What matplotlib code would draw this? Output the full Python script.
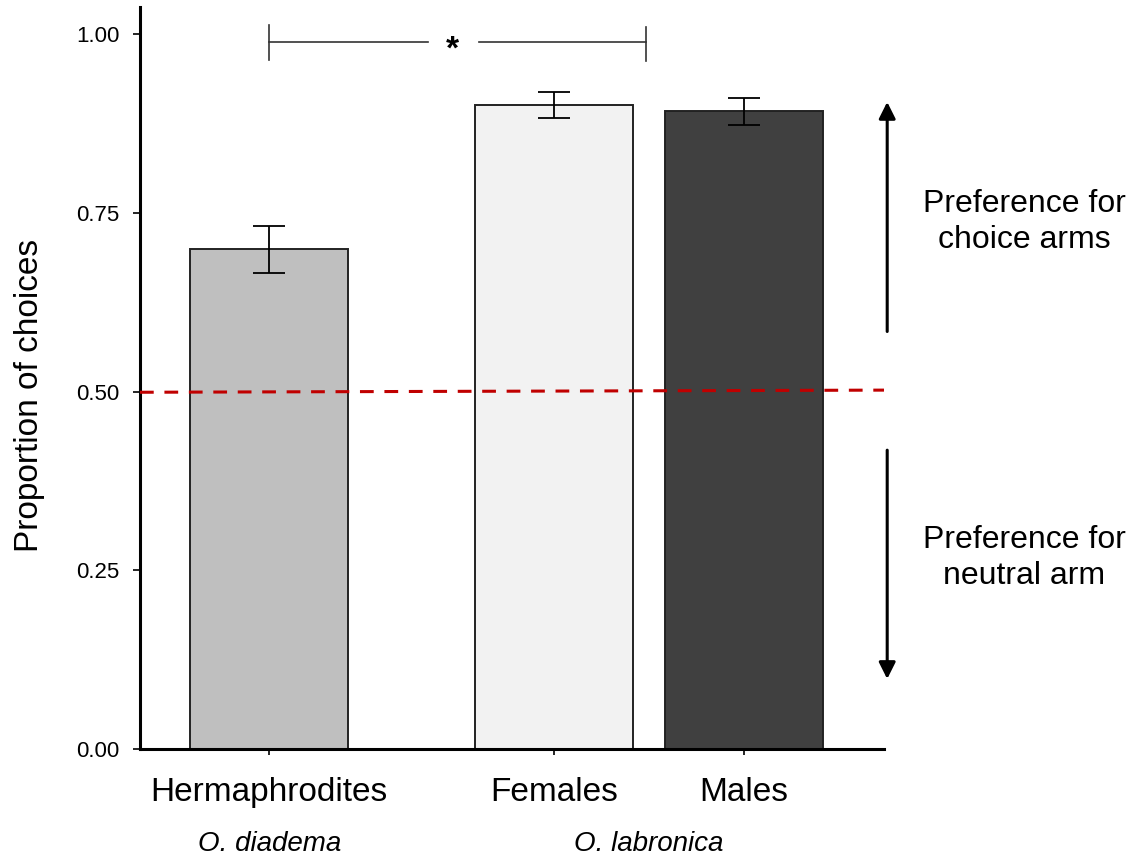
import matplotlib
matplotlib.use("Agg")
import matplotlib.pyplot as plt
import matplotlib.transforms as mtransforms

# data
groups = ["Hermaphrodites", "Females", "Males"]
species = ["O. diadema", "O. labronica"]
proportion = [0.699, 0.901, 0.892]
sem = [0.033, 0.018, 0.019]
bar_colors = ["#bfbfbf", "#f2f2f2", "#404040"]
chance_level = [0.499, 0.502]  # dashed line, left and right end
yticks = [0.00, 0.25, 0.50, 0.75, 1.00]

plt.rcParams["font.family"] = ["Liberation Sans", "DejaVu Sans"]

fig = plt.figure(figsize=(11.38, 8.59), dpi=100)
ax = fig.add_axes([0.123, 0.128, 0.654, 0.864])

xpos = [0, 1.8, 3.0]
ax.bar(xpos, proportion, width=1.0, color=bar_colors, edgecolor="#222222",
       linewidth=1.4, zorder=2)
ax.errorbar(xpos, proportion, yerr=sem, fmt="none", ecolor="black",
            elinewidth=1.3, capsize=11.5, capthick=1.3, zorder=3)

ax.set_xlim(-0.816, 3.885)
ax.set_ylim(0, 1.038)

# reference line at 0.5
ax.plot(ax.get_xlim(), chance_level, color="#c00000", linestyle=(0, (4.5, 3.5)),
        linewidth=2.2, zorder=4)

# significance bracket
x1, x2 = xpos[0], 2.38
yb = 0.989
ax.plot([x1, x1], [0.964, 1.013], color="#333333", lw=1.2)
ax.plot([x2, x2], [0.962, 1.010], color="#333333", lw=1.2)
ax.plot([x1, 1.001], [yb, yb], color="#333333", lw=1.2)
ax.plot([1.324, x2], [yb, yb], color="#333333", lw=1.2)
ax.text(1.158, yb - 0.012, "*", ha="center", va="center", fontsize=24,
        fontweight="bold")

# axes styling
for s in ["top", "right"]:
    ax.spines[s].set_visible(False)
ax.spines["left"].set_linewidth(2.2)
ax.spines["bottom"].set_linewidth(2.2)
ax.set_yticks(yticks)
ax.set_yticklabels(["%.2f" % t for t in yticks])
ax.tick_params(axis="y", labelsize=16, length=5, width=1.2, pad=10)
ax.set_xticks(xpos)
ax.set_xticklabels(groups, fontsize=24)
ax.tick_params(axis="x", length=4, width=1.2, pad=16)
ax.set_ylabel("Proportion of choices", fontsize=24)
ax.yaxis.set_label_coords(-0.127, 0.477)

# species labels
ax.text(xpos[0], -0.133, species[0], ha="center", va="center", fontsize=20,
        style="italic")
ax.text((xpos[1] + xpos[2]) / 2, -0.133, species[1], ha="center", va="center",
        fontsize=20, style="italic")

# preference arrows
trans = mtransforms.blended_transform_factory(ax.transAxes, ax.transData)
arrow = dict(arrowstyle="-|>,head_width=0.5,head_length=1.0", color="black",
             lw=2.2, shrinkA=0, shrinkB=0)
ax.annotate("", xy=(1.004, 0.905), xytext=(1.004, 0.584), xycoords=trans,
            textcoords=trans, arrowprops=arrow, annotation_clip=False)
ax.annotate("", xy=(1.004, 0.098), xytext=(1.004, 0.418), xycoords=trans,
            textcoords=trans, arrowprops=arrow, annotation_clip=False)

fig.text(1024 / 1138, 1 - 222 / 859, "Preference for\nchoice arms", ha="center",
         va="center", fontsize=23, linespacing=1.3)
fig.text(1024 / 1138, 1 - 558 / 859, "Preference for\nneutral arm", ha="center",
         va="center", fontsize=23, linespacing=1.3)

fig.savefig("out.png", dpi=100)
